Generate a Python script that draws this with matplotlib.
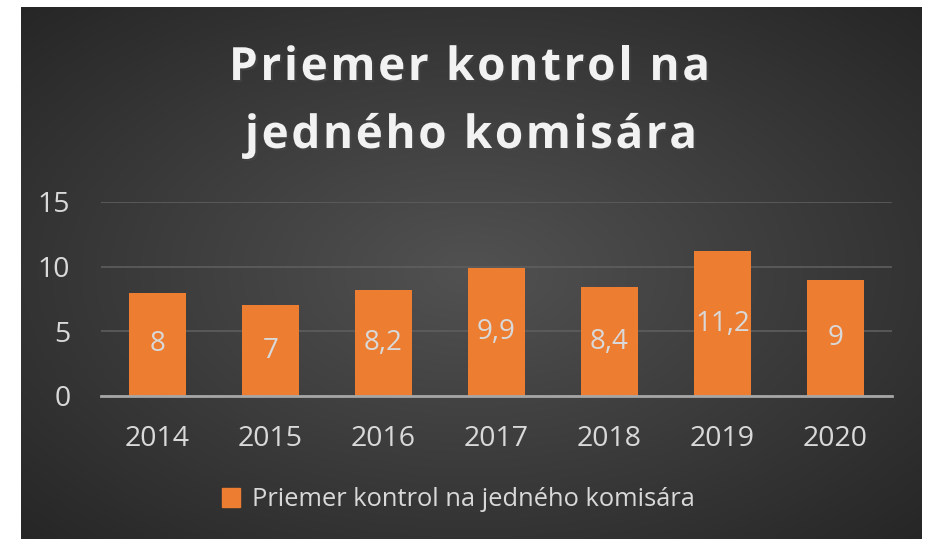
import numpy as np
import matplotlib.pyplot as plt
import matplotlib.patheffects as pe
from matplotlib.font_manager import FontProperties, findfont
from matplotlib.ft2font import FT2Font

# --- Data ---
years = ["2014", "2015", "2016", "2017", "2018", "2019", "2020"]
values = [8, 7, 8.2, 9.9, 8.4, 11.2, 9]
labels = ["8", "7", "8,2", "9,9", "8,4", "11,2", "9"]
series_name = "Priemer kontrol na jedného komisára"
title_lines = ["Priemer kontrol na", "jedného komisára"]

W, H = 926, 539
DPI = 100
bar_color = "#ED7D31"
text_color = "#D9D9D9"

plt.rcParams['font.family'] = ['Open Sans', 'DejaVu Sans']

fig = plt.figure(figsize=(W / DPI, H / DPI), dpi=DPI, facecolor="white")

# --- dark radial gradient panel ---
bg = fig.add_axes([21 / W, 0, (922 - 21) / W, (539 - 7) / H])
gx, gy = np.meshgrid(np.linspace(-1, 1, 400), np.linspace(-1, 1, 240))
r = np.sqrt(gx ** 2 + gy ** 2) / np.sqrt(2)
shade = 0.32 - 0.17 * r
bg.imshow(np.dstack([shade] * 3), aspect="auto", extent=[0, 1, 0, 1])
bg.set_axis_off()

# --- bar chart ---
ax = fig.add_axes([101 / W, (539 - 396) / H, (892 - 101) / W, (396 - 202) / H])
ax.patch.set_alpha(0)
x = np.arange(len(years))
bars = ax.bar(x, values, width=0.5, color=bar_color, zorder=3)
for b in bars:
    b.set_path_effects([pe.SimplePatchShadow(offset=(0, -3), alpha=0.35), pe.Normal()])
for xi, v, lab in zip(x, values, labels):
    ax.text(xi, v / 2, lab, ha="center", va="center", fontsize=20, color=text_color, zorder=4)

ax.set_xlim(-0.5, len(years) - 0.5)
ax.set_ylim(0, 15)
ax.set_yticks([0, 5, 10, 15])
ax.set_xticks(x)
ax.set_xticklabels(years)
ax.tick_params(axis="both", length=0, labelsize=20.5, colors=text_color)
ax.tick_params(axis="x", pad=21)
ax.tick_params(axis="y", pad=22)
ax.grid(axis="y", color="#5e5e5e", linewidth=1.2, zorder=0)
for s in ["top", "right", "left"]:
    ax.spines[s].set_visible(False)
ax.spines["bottom"].set_color("#a6a6a6")
ax.spines["bottom"].set_linewidth(2)
ax.spines["bottom"].set_zorder(5)

# --- title with letter spacing, laid out char by char ---
title_fs = 33
tfp = FontProperties(family="Open Sans", weight="bold", size=title_fs)
ft = FT2Font(findfont(tfp))
ft.set_size(title_fs, 72)


def advances(s):
    return [ft.load_char(ord(c)).linearHoriAdvance / 65536 for c in s]


# (left px, right px, baseline px) for each line
title_boxes = [(229, 710, 80), (245, 697, 148)]
shadow = [pe.SimplePatchShadow(offset=(1.5, -1.5), alpha=0.5), pe.Normal()]
for line, (x0, x1, base) in zip(title_lines, title_boxes):
    adv = advances(line)
    nat = sum(adv) * DPI / 72
    gap = (x1 - x0 - nat) / (len(line) - 1)
    px = x0
    for c, a in zip(line, adv):
        fig.text(px / W, 1 - base / H, c, ha="left", va="baseline", fontproperties=tfp,
                 color="#F2F2F2", path_effects=shadow)
        px += a * DPI / 72 + gap

# --- legend ---
handle = plt.Rectangle((0, 0), 1, 1, color=bar_color)
fig.legend([handle], [series_name], loc="center", bbox_to_anchor=(458 / W, 1 - 500 / H),
           frameon=False, fontsize=18.4, labelcolor=text_color, handlelength=0.72,
           handleheight=0.72, handletextpad=0.45)

fig.savefig("out.png", dpi=DPI, facecolor="white")
